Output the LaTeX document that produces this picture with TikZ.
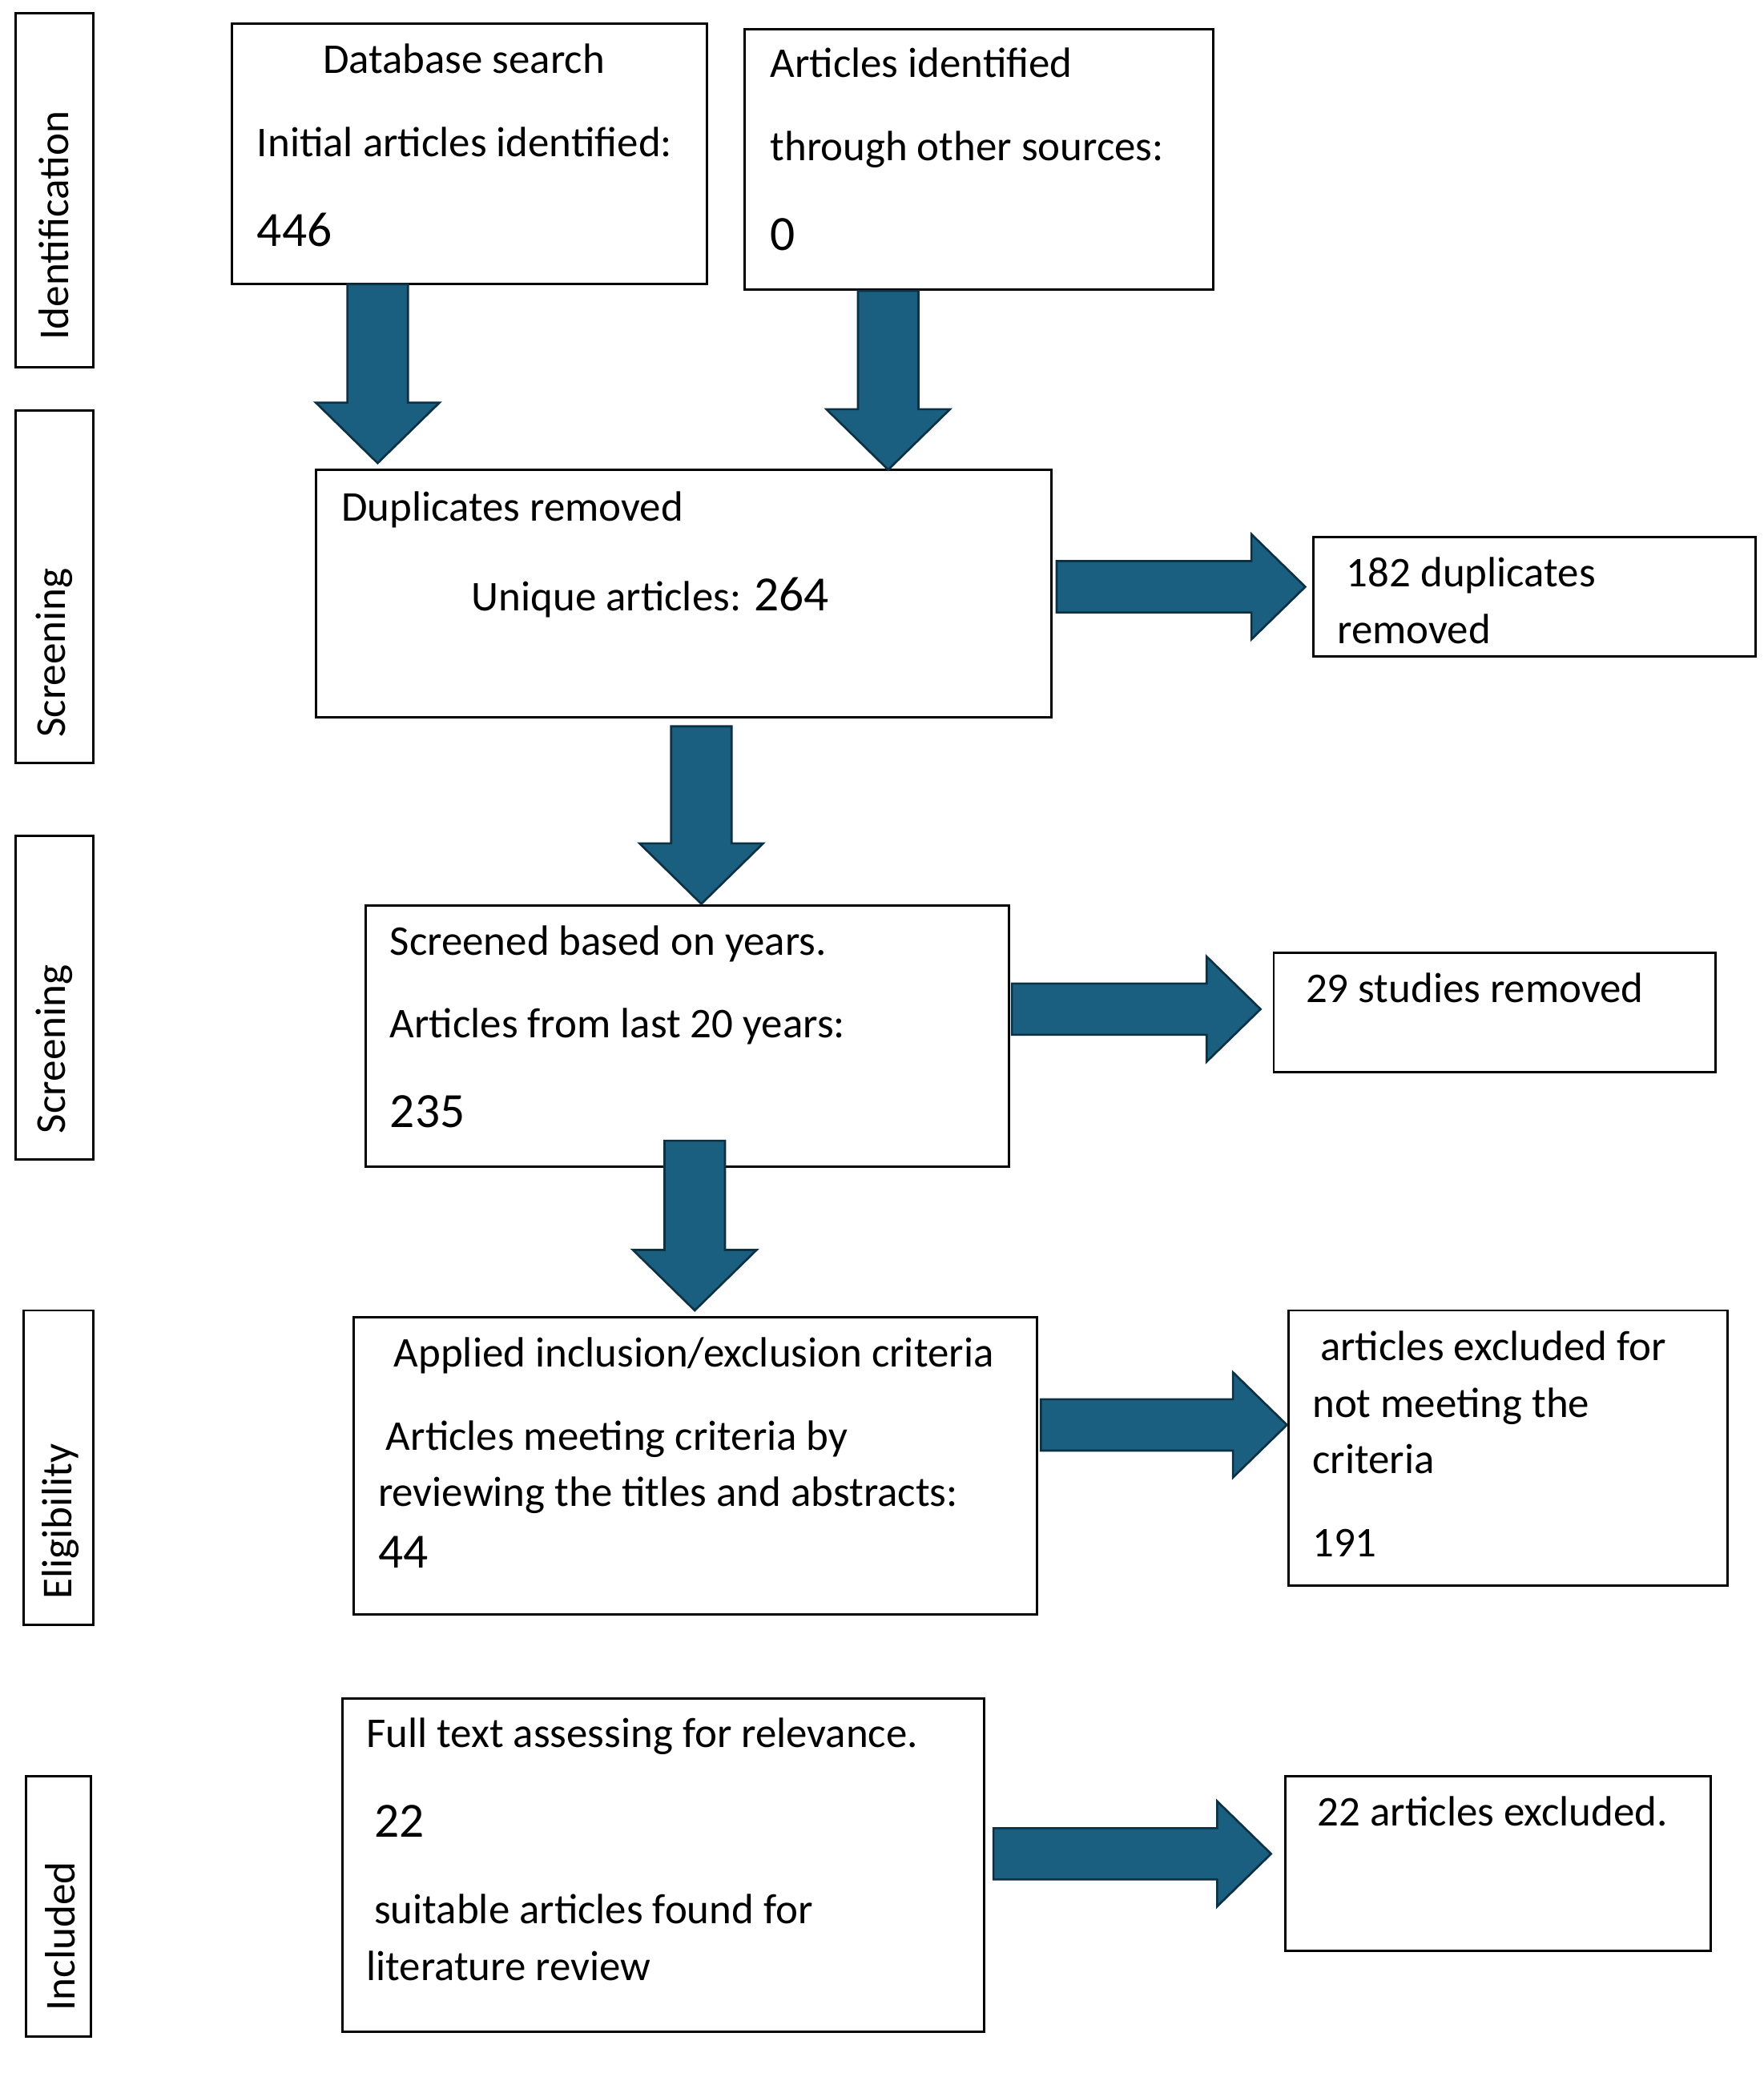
\documentclass[tikz,border=0pt]{standalone}
\usepackage{fontspec}
\setmainfont{Carlito}
\usetikzlibrary{calc}
\definecolor{arrfill}{RGB}{26,95,128}
\definecolor{arrline}{RGB}{12,48,68}
\tikzset{
  box/.style={draw=black, line width=0.9pt, fill=white, inner sep=0pt, outer sep=0pt},
  txt/.style={anchor=base west, inner sep=0pt, font=\fontsize{16.1}{19}\selectfont},
  num/.style={anchor=base west, inner sep=0pt, font=\fontsize{18.7}{22}\selectfont},
  side/.style={rotate=90, anchor=west, inner sep=0pt, font=\fontsize{16.2}{19}\selectfont},
  barrow/.style={fill=arrfill, draw=arrline, line width=0.8pt, line join=miter},
}
% box: name, x1, y1, x2, y2 (display px, y down)
\newcommand\mkbox[5]{%
  \node[box, minimum width={(#4-#2)*0.5pt}, minimum height={(#5-#3)*0.5pt}]
    (#1) at ({(#2+#4)/2},{(#3+#5)/2}) {};}
% downward block arrow from coordinate #1 (top centre) to #2 (tip)
\newcommand\blockdown[2]{%
  \draw[barrow] let \p1=(#1), \p2=(#2) in
    (\x1-11.5pt,\y1) -- (\x1+11.5pt,\y1) -- (\x1+11.5pt,\y2+23pt) --
    (\x1+23.5pt,\y2+23pt) -- (\x1,\y2) -- (\x1-23.5pt,\y2+23pt) --
    (\x1-11.5pt,\y2+23pt) -- cycle;}
% rightward block arrow from coordinate #1 (left centre) to #2 (tip)
\newcommand\blockright[2]{%
  \draw[barrow] let \p1=(#1), \p2=(#2) in
    (\x1,\y1+9.75pt) -- (\x2-20.5pt,\y1+9.75pt) -- (\x2-20.5pt,\y1+20pt) --
    (\x2,\y1) -- (\x2-20.5pt,\y1-20pt) -- (\x2-20.5pt,\y1-9.75pt) --
    (\x1,\y1-9.75pt) -- cycle;}
\begin{document}
\begin{tikzpicture}[x=0.5pt,y=-0.5pt]
\useasboundingbox (0,0) rectangle (1340,1575.6);
\fill[white] (0,0) rectangle (1340,1575.6);

% side labels
\mkbox{L1}{12}{10}{71}{279}
\mkbox{L2}{12}{312}{71}{580}
\mkbox{L3}{12}{635}{71}{881}
\mkbox{L4}{18}{996}{71}{1235}
\mkbox{L5}{20}{1350}{69}{1548}
\node[side] (t1) at (41,259) {Identification};
\node[side] (t2) at (41,561) {Screening};
\node[side] (t3) at (41,862) {Screening};
\node[side] (t4) at (46,1216) {Eligibility};
\node[side] (t5) at (46,1529) {Included};

% main boxes
\mkbox{A}{176}{18}{537}{216}
\mkbox{B}{566}{22}{922}{220}
\mkbox{C}{240}{357}{799}{545}
\mkbox{D}{998}{408}{1334}{499}
\mkbox{E}{278}{688}{767}{887}
\mkbox{F}{968}{724}{1304}{815}
\mkbox{G}{269}{1001}{788}{1227}
\mkbox{H}{979}{996}{1313}{1205}
\mkbox{I}{260}{1291}{748}{1544}
\mkbox{J}{977}{1350}{1300}{1483}

% texts
\node[txt] (a1) at (245,56) {Database search};
\node[txt] (a2) at (195,119) {Initial articles identified:};
\node[num] (a3) at (195,187) {446};

\node[txt] (b1) at (585,59) {Articles identified};
\node[txt] (b2) at (585,122) {through other sources:};
\node[num] (b3) at (585,190) {0};

\node[txt] (c1) at (259,396) {Duplicates removed};
\node[txt] (c2) at (358,464) {Unique articles: {\fontsize{18.7}{22}\selectfont 264}};

\node[txt] (d1) at (1023,446) {182 duplicates};
\node[txt] (d2) at (1016,489) {removed};

\node[txt] (e1) at (296,726) {Screened based on years.};
\node[txt] (e2) at (296,789) {Articles from last 20 years:};
\node[num] (e3) at (296,857) {235};

\node[txt] (f1) at (992,762) {29 studies removed};

\node[txt] (g1) at (299,1039) {Applied inclusion/exclusion criteria};
\node[txt] (g2) at (293,1102) {Articles meeting criteria by};
\node[txt] (g3) at (287,1145) {reviewing the titles and abstracts:};
\node[num] (g4) at (287,1192) {44};

\node[txt] (h1) at (1003,1034) {articles excluded for};
\node[txt] (h2) at (997,1077) {not meeting the};
\node[txt] (h3) at (997,1120) {criteria};
\node[txt] (h4) at (997,1183) {191};

\node[txt] (i1) at (278,1328) {Full text assessing for relevance.};
\node[num] (i2) at (284,1396) {22};
\node[txt] (i3) at (284,1462) {suitable articles found for};
\node[txt] (i4) at (278,1505) {literature review};

\node[txt] (j1) at (1001,1388) {22 articles excluded.};

% arrow end points
\coordinate (s1) at (287,216);  \coordinate (e1p) at (287,352);
\coordinate (s2) at (675,221);  \coordinate (e2p) at (675,357);
\coordinate (s3) at (533,552);  \coordinate (e3p) at (533,687);
\coordinate (s4) at (528,867);  \coordinate (e4p) at (528,996);
\coordinate (s5) at (803,446);  \coordinate (e5p) at (992,446);
\coordinate (s6) at (769,767);  \coordinate (e6p) at (958,767);
\coordinate (s7) at (791,1083); \coordinate (e7p) at (978,1083);
\coordinate (s8) at (755,1409); \coordinate (e8p) at (966,1409);

\blockdown{s1}{e1p}
\blockdown{s2}{e2p}
\blockdown{s3}{e3p}
\blockdown{s4}{e4p}
\blockright{s5}{e5p}
\blockright{s6}{e6p}
\blockright{s7}{e7p}
\blockright{s8}{e8p}
\end{tikzpicture}
\end{document}
